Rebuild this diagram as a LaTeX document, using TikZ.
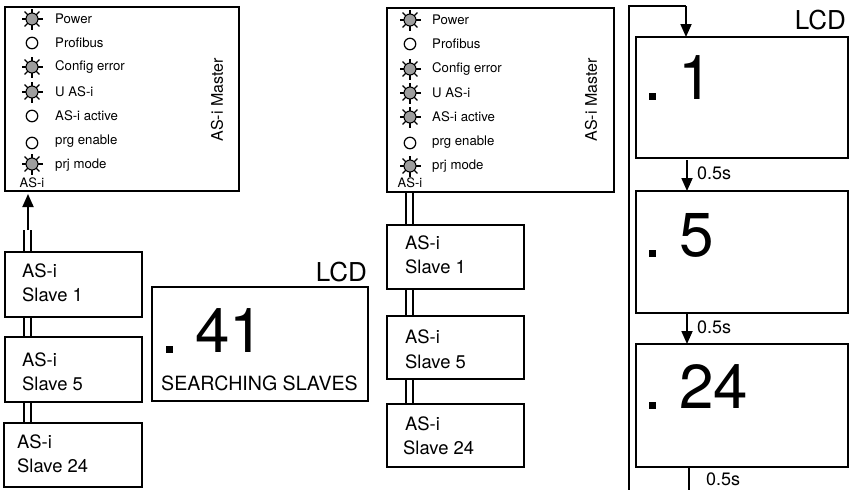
\documentclass[tikz,border=0pt]{standalone}
\usepackage{fontspec}
\setmainfont{TeX Gyre Heros}
\usetikzlibrary{arrows.meta}
\tikzset{
  x=1pt,y=-1pt,
  panel/.style={draw=black,line width=1.8pt,inner sep=0pt,outer sep=0pt,anchor=north west,fill=white},
  led/.style={circle,draw=black,line width=1.2pt,minimum size=11.5pt,inner sep=0pt,fill=white},
  ledon/.style={circle,draw=black,line width=1pt,minimum size=12pt,inner sep=0pt,fill=black!38},
  ray/.style={black,line width=1.2pt},
  ledtext/.style={anchor=west,inner sep=0pt,font=\fontsize{13.2}{15}\selectfont},
  smalltext/.style={inner sep=0pt,font=\fontsize{13}{15}\selectfont},
  mastertext/.style={inner sep=0pt,rotate=90,font=\fontsize{16}{18}\selectfont},
  slavetext/.style={anchor=west,inner sep=0pt,font=\fontsize{18.4}{20}\selectfont},
  lcdtext/.style={anchor=east,inner sep=0pt,font=\fontsize{26}{28}\selectfont},
  bigtext/.style={anchor=west,inner sep=0pt,font=\fontsize{62}{65}\selectfont},
  msgtext/.style={anchor=west,inner sep=0pt,font=\fontsize{19.6}{22}\selectfont},
  timetext/.style={anchor=west,inner sep=0pt,font=\fontsize{18}{20}\selectfont},
  dotmark/.style={fill=black,inner sep=0pt,minimum size=7pt,anchor=center},
  busline/.style={black,line width=1.8pt},
  flow/.style={black,line width=1.8pt,-{Triangle[length=13pt,width=11pt]}},
  plain/.style={black,line width=1.8pt},
}
% \panelbox{name}{x}{y}{w}{h}
\newcommand{\panelbox}[5]{\node[panel,minimum width=#4pt,minimum height=#5pt] (#1) at (#2,#3) {};}
% \ledoff{name}{x}{y}   \ledlit{name}{x}{y}
\newcommand{\ledoff}[3]{\node[led] (#1) at (#2,#3) {};}
\newcommand{\ledlit}[3]{%
  \foreach \a in {0,45,...,315}{\draw[ray] (#2,#3) -- ++(\a:10.5);}%
  \node[ledon] (#1) at (#2,#3) {};}
% \lcddot{name}{x}{y}
\newcommand{\lcddot}[3]{\node[dotmark] (#1) at (#2,#3) {};}
\begin{document}
\begin{tikzpicture}
\useasboundingbox (0,0) rectangle (849,490);
% === left master
\panelbox{ma}{5}{7}{234}{184}
\ledlit{a1}{32}{19}
\ledoff{a2}{32}{43}
\ledlit{a3}{32}{67}
\ledlit{a4}{32}{92}
\ledoff{a5}{32}{116}
\ledoff{a6}{32}{143}
\ledlit{a7}{32}{164}
\node[ledtext] (ta1) at (55,18.5) {Power};
\node[ledtext] (ta2) at (55,43) {Profibus};
\node[ledtext] (ta3) at (55,67) {Config error};
\node[ledtext] (ta4) at (55,92) {U AS-i};
\node[ledtext] (ta5) at (55,116) {AS-i active};
\node[ledtext] (ta6) at (55,141) {prg enable};
\node[ledtext] (ta7) at (55,165) {prj mode};
\node[smalltext] (tas) at (32,183) {AS-i};
\node[mastertext] (tam) at (217,100) {AS-i Master};
% left slaves
\panelbox{sa}{5}{252}{137}{65}
\panelbox{sb}{5}{337}{137}{65}
\panelbox{sc}{4}{423}{138}{64}
\node[slavetext] (sa1) at (22,271) {AS-i};
\node[slavetext] (sa2) at (22,295) {Slave 1};
\node[slavetext] (sb1) at (22,360) {AS-i};
\node[slavetext] (sb2) at (22,384) {Slave 5};
\node[slavetext] (sc1) at (17,442) {AS-i};
\node[slavetext] (sc2) at (17,466) {Slave 24};
\coordinate (busal) at (24,230);
\coordinate (busar) at (31,230);
\coordinate (arrowa) at (28,230);
\draw[busline] (busal) -- (sa.north -| busal);
\draw[busline] (busar) -- (sa.north -| busar);
\draw[busline] (sa.south -| busal) -- (sb.north -| busal);
\draw[busline] (sa.south -| busar) -- (sb.north -| busar);
\draw[busline] (sb.south -| busal) -- (sc.north -| busal);
\draw[busline] (sb.south -| busar) -- (sc.north -| busar);
\draw[flow,shorten >=3pt] (arrowa) -- (ma.south -| arrowa);
% left LCD
\panelbox{la}{152}{287}{216}{114}
\node[lcdtext] (lal) at (367,272) {LCD};
\lcddot{lad}{169.5}{349}
\node[bigtext] (lan) at (195,330.5) {41};
\node[msgtext] (lam) at (161,383) {SEARCHING SLAVES};
% === middle master
\panelbox{mb}{387}{8}{227}{184}
\ledlit{b1}{410}{20}
\ledoff{b2}{410}{44}
\ledlit{b3}{410}{69}
\ledlit{b4}{410}{93}
\ledlit{b5}{410}{117}
\ledoff{b6}{410}{143}
\ledlit{b7}{410}{166}
\node[ledtext] (tb1) at (432,20) {Power};
\node[ledtext] (tb2) at (432,44) {Profibus};
\node[ledtext] (tb3) at (432,69) {Config error};
\node[ledtext] (tb4) at (432,93) {U AS-i};
\node[ledtext] (tb5) at (432,117) {AS-i active};
\node[ledtext] (tb6) at (432,142) {prg enable};
\node[ledtext] (tb7) at (432,166) {prj mode};
\node[smalltext] (tbs) at (410,183) {AS-i};
\node[mastertext] (tbm) at (591,100) {AS-i Master};
% middle slaves
\panelbox{sd}{387}{225}{137}{64}
\panelbox{se}{387}{316}{137}{63}
\panelbox{sf}{387}{404}{137}{63}
\node[slavetext] (sd1) at (405,243) {AS-i};
\node[slavetext] (sd2) at (405,267) {Slave 1};
\node[slavetext] (se1) at (405,337) {AS-i};
\node[slavetext] (se2) at (405,362) {Slave 5};
\node[slavetext] (sf1) at (405,424) {AS-i};
\node[slavetext] (sf2) at (403,448) {Slave 24};
\coordinate (busbl) at (406,200);
\coordinate (busbr) at (413,200);
\draw[busline] (mb.south -| busbl) -- (sd.north -| busbl);
\draw[busline] (mb.south -| busbr) -- (sd.north -| busbr);
\draw[busline] (sd.south -| busbl) -- (se.north -| busbl);
\draw[busline] (sd.south -| busbr) -- (se.north -| busbr);
\draw[busline] (se.south -| busbl) -- (sf.north -| busbl);
\draw[busline] (se.south -| busbr) -- (sf.north -| busbr);
% === right column
\panelbox{lb}{636}{37}{212}{121}
\panelbox{lc}{636}{191}{212}{122}
\panelbox{ld}{636}{344}{212}{123}
\node[lcdtext] (lbl) at (846,20) {LCD};
\lcddot{lbd}{652.5}{96}
\lcddot{lcd}{652.5}{253}
\lcddot{ldd}{652.5}{405}
\node[bigtext] (lbn) at (678,78) {1};
\node[bigtext] (lcn) at (679,235) {5};
\node[bigtext] (ldn) at (679,387) {24};
\coordinate (loopb) at (629,490);
\coordinate (loopt) at (629,6);
\coordinate (loopa) at (686,6);
\coordinate (fa) at (687,160);
\coordinate (fb) at (687,313);
\coordinate (fc) at (689,490);
\draw[plain] (loopb) -- (loopt) -- (loopa);
\draw[flow] (loopa) -- (loopa |- lb.north);
\draw[flow] (fa) -- (fa |- lc.north);
\draw[flow] (fb) -- (fb |- ld.north);
\draw[plain] (fc |- ld.south) -- (fc);
\node[timetext] (t1) at (697,173) {0.5s};
\node[timetext] (t2) at (697,327) {0.5s};
\node[timetext] (t3) at (706,479) {0.5s};
\end{tikzpicture}
\end{document}
